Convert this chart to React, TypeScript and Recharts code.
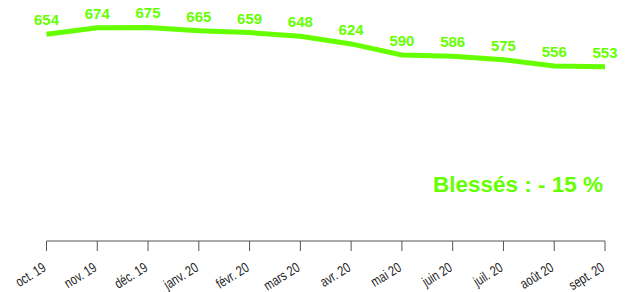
import React from 'react';
import { LineChart, Line, XAxis, YAxis, LabelList, Customized } from 'recharts';

const months = ['oct. 19', 'nov. 19', 'déc. 19', 'janv. 20', 'févr. 20', 'mars 20', 'avr. 20', 'mai 20', 'juin 20', 'juil. 20', 'août 20', 'sept. 20'];
const blesses = [654, 674, 675, 665, 659, 648, 624, 590, 586, 575, 556, 553];
const annotation = 'Blessés : - 15 %';

const data = months.map((m, i) => ({ month: m, value: blesses[i] }));

const GREEN = '#66ff00';

const Tick = (props: any) => {
  const { x, y, payload } = props;
  return (
    <g transform={`translate(${x + 0.5},${y + 17})`}>
      <text
        x={0}
        y={0}
        textAnchor="end"
        transform="rotate(-32) scale(0.78,1)"
        fill="#222"
        fontSize={14}
        fontFamily="Liberation Sans, Arial, sans-serif"
      >
        {payload.value}
      </text>
    </g>
  );
};

const Note = () => (
  <text
    x={603}
    y={192}
    textAnchor="end"
    fill={GREEN}
    fontSize={22.5}
    fontWeight="bold"
    fontFamily="Liberation Sans, Arial, sans-serif"
  >
    {annotation}
  </text>
);

export default function App() {
  return (
    <div style={{ position: 'absolute', left: 0, top: 0, width: 636, height: 292, background: '#fff' }}>
      <LineChart width={636} height={292} data={data} margin={{ top: 10, right: 31, bottom: 0, left: 46.5 }}>
        <XAxis
          dataKey="month"
          height={51}
          tick={<Tick />}
          tickSize={10}
          interval={0}
          axisLine={{ stroke: '#555', strokeWidth: 1 }}
          tickLine={{ stroke: '#555', strokeWidth: 1 }}
          padding={{ left: 0, right: 0 }}
        />
        <YAxis hide domain={[14, 729]} />
        <Line
          type="linear"
          dataKey="value"
          stroke={GREEN}
          strokeWidth={5}
          dot={false}
          isAnimationActive={false}
        >
          <LabelList
            dataKey="value"
            position="top"
            offset={9}
            fill={GREEN}
            fontSize={15}
            fontWeight="bold"
            fontFamily="Liberation Sans, Arial, sans-serif"
          />
        </Line>
        <Customized component={Note} />
      </LineChart>
    </div>
  );
}
